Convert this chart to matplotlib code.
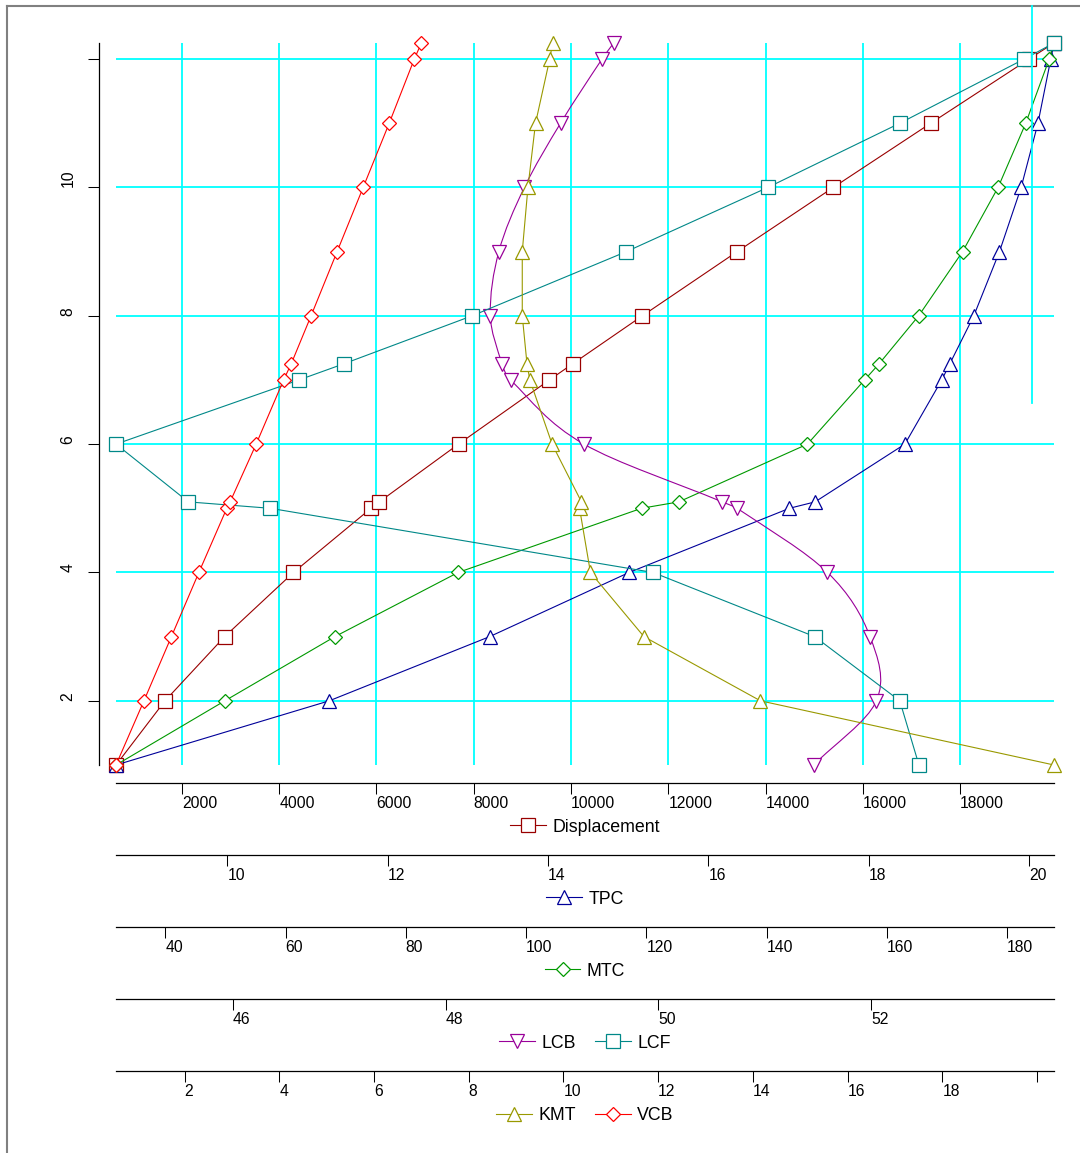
import numpy as np
import matplotlib
matplotlib.use('Agg')
import matplotlib.pyplot as plt
from matplotlib.lines import Line2D
from matplotlib.path import Path
from matplotlib.patches import PathPatch

plt.rcParams['font.family'] = ['Liberation Sans', 'DejaVu Sans']

# hydrostatic table
draft = [1, 2, 3, 4, 5, 5.1, 6, 7, 7.25, 8, 9, 10, 11, 12, 12.25]
displacement = [646, 1653, 2879, 4294, 5888, 6058, 7687, 9556, 10031, 11468, 13416, 15392, 17394, 19415, 19928]
tpc = [8.61, 11.27, 13.27, 15.01, 17.01, 17.33, 18.45, 18.91, 19.01, 19.31, 19.63, 19.90, 20.11, 20.27, 20.31]
mtc = [31.8, 49.9, 68.2, 88.7, 119.2, 125.4, 146.8, 156.3, 158.7, 165.3, 172.6, 178.5, 183.1, 187.0, 187.8]
lcb = [51.46, 52.05, 51.99, 51.59, 50.74, 50.60, 49.30, 48.61, 48.53, 48.42, 48.50, 48.74, 49.08, 49.47, 49.58]
lcf = [52.45, 52.27, 51.47, 49.95, 46.35, 45.58, 44.90, 46.62, 47.04, 48.25, 49.70, 51.03, 52.27, 53.44, 53.72]
kmt = [20.36, 14.16, 11.70, 10.57, 10.34, 10.38, 9.76, 9.29, 9.23, 9.13, 9.13, 9.25, 9.41, 9.71, 9.77]
vcb = [0.55, 1.14, 1.72, 2.30, 2.89, 2.96, 3.51, 4.09, 4.25, 4.67, 5.22, 5.77, 6.32, 6.85, 7.00]

draft_ticks = [2, 4, 6, 8, 10, 12]
draft_labels = ['2', '4', '6', '8', '10', '']
disp_ticks = [2000, 4000, 6000, 8000, 10000, 12000, 14000, 16000, 18000]
tpc_ticks = [10, 12, 14, 16, 18, 20]
mtc_ticks = [40, 60, 80, 100, 120, 140, 160, 180]
lc_ticks = [46, 48, 50, 52]
k_ticks = [2, 4, 6, 8, 10, 12, 14, 16, 18, 20]
k_labels = ['2', '4', '6', '8', '10', '12', '14', '16', '18', '']

TICK_FS = 11.3
LEG_FS = 12.8
GRID = '#00FFFF'


def smooth_path(xs, ys):
    # cubic hermite through the points, x as a function of draft
    xs = np.asarray(xs, float)
    ys = np.asarray(ys, float)
    m = np.empty(len(xs))
    m[1:-1] = (xs[2:] - xs[:-2]) / (ys[2:] - ys[:-2])
    m[0] = (xs[1] - xs[0]) / (ys[1] - ys[0])
    m[-1] = (xs[-1] - xs[-2]) / (ys[-1] - ys[-2])
    verts = [(xs[0], ys[0])]
    codes = [Path.MOVETO]
    for i in range(len(xs) - 1):
        h = ys[i + 1] - ys[i]
        verts += [(xs[i] + m[i] * h / 3, ys[i] + h / 3),
                  (xs[i + 1] - m[i + 1] * h / 3, ys[i + 1] - h / 3),
                  (xs[i + 1], ys[i + 1])]
        codes += [Path.CURVE4] * 3
    return Path(verts, codes)


def bottom_axis(a, data, ticks, labels, offset):
    # spine position first: moving a spine resets the ticks
    for s in ['top', 'left', 'right']:
        a.spines[s].set_visible(False)
    a.spines['bottom'].set_visible(True)
    a.spines['bottom'].set_position(('outward', offset))
    a.spines['bottom'].set_linewidth(0.9)
    a.xaxis.set_ticks_position('bottom')
    a.set_xlim(min(min(d) for d in data), max(max(d) for d in data))
    a.set_xticks(ticks, labels, ha='left')
    a.tick_params(axis='x', length=8, width=0.75, pad=1.5, labelsize=TICK_FS)


def legend_below(a, handles, y_px):
    a.legend(handles=handles, loc='center', bbox_to_anchor=(585 / 1080, 1 - y_px / 1153),
             bbox_transform=fig.transFigure, ncol=len(handles), frameon=False,
             fontsize=LEG_FS, handlelength=2.0, handletextpad=0.35,
             columnspacing=1.1, borderpad=0, borderaxespad=0)


fig = plt.figure(figsize=(10.8, 11.53), dpi=100)
ax = fig.add_axes([116 / 1080, 1 - 765 / 1153, 938 / 1080, 722 / 1153])
ax_tpc = ax.twiny()
ax_mtc = ax.twiny()
ax_lc = ax.twiny()
ax_k = ax.twiny()

st = dict(lw=0.8, mew=0.9, mfc='white', clip_on=False)

# displacement on the main axes
h_disp, = ax.plot(displacement, draft, color='#990000', marker='s', ms=10, label='Displacement', **st)
bottom_axis(ax, [displacement], disp_ticks, [str(t) for t in disp_ticks], 13)
ax.spines['left'].set_visible(True)
ax.spines['left'].set_position(('outward', 12))
ax.spines['left'].set_linewidth(0.9)
ax.set_ylim(min(draft), max(draft))
ax.set_yticks(draft_ticks, draft_labels, rotation=90, va='bottom', ha='right')
ax.tick_params(axis='y', length=8, width=0.75, pad=9, labelsize=TICK_FS)
ax.grid(True, color=GRID, lw=1.3)
ax.set_axisbelow(True)

h_tpc, = ax_tpc.plot(tpc, draft, color='#000099', marker='^', ms=10, label='TPC', **st)
bottom_axis(ax_tpc, [tpc], tpc_ticks, [str(t) for t in tpc_ticks], 64.8)

h_mtc, = ax_mtc.plot(mtc, draft, color='#009900', marker='D', ms=7, label='MTC', **st)
bottom_axis(ax_mtc, [mtc], mtc_ticks, [str(t) for t in mtc_ticks], 116.6)

ax_lc.add_patch(PathPatch(smooth_path(lcb, draft), fc='none', ec='#990099', lw=0.8, clip_on=False))
ax_lc.plot(lcb, draft, color='#990099', marker='v', ms=10, ls='none', mew=0.9, mfc='white', clip_on=False)
h_lcb = Line2D([], [], color='#990099', marker='v', ms=10, label='LCB', lw=0.8, mew=0.9, mfc='white')
h_lcf, = ax_lc.plot(lcf, draft, color='#008888', marker='s', ms=10, label='LCF', **st)
bottom_axis(ax_lc, [lcb, lcf], lc_ticks, [str(t) for t in lc_ticks], 168.5)

h_kmt, = ax_k.plot(kmt, draft, color='#999900', marker='^', ms=10, label='KMT', **st)
h_vcb, = ax_k.plot(vcb, draft, color='#FF0000', marker='D', ms=7, label='VCB', **st)
bottom_axis(ax_k, [kmt, vcb], k_ticks, k_labels, 220.3)

legend_below(ax, [h_disp], 827)
legend_below(ax_tpc, [h_tpc], 899)
legend_below(ax_mtc, [h_mtc], 971)
legend_below(ax_lc, [h_lcb, h_lcf], 1043)
legend_below(ax_k, [h_kmt, h_vcb], 1116)

# outer frame (only top and left edges show) and the stray grid stub
fig.add_artist(Line2D([7 / 1080, 7 / 1080], [0, 1 - 6 / 1153], color='#808080', lw=1.5))
fig.add_artist(Line2D([7 / 1080, 1], [1 - 6 / 1153, 1 - 6 / 1153], color='#808080', lw=1.5))
fig.add_artist(Line2D([1032 / 1080, 1032 / 1080], [1 - 6 / 1153, 1 - 403 / 1153], color=GRID, lw=1.3))

fig.savefig('out.png', dpi=100)
